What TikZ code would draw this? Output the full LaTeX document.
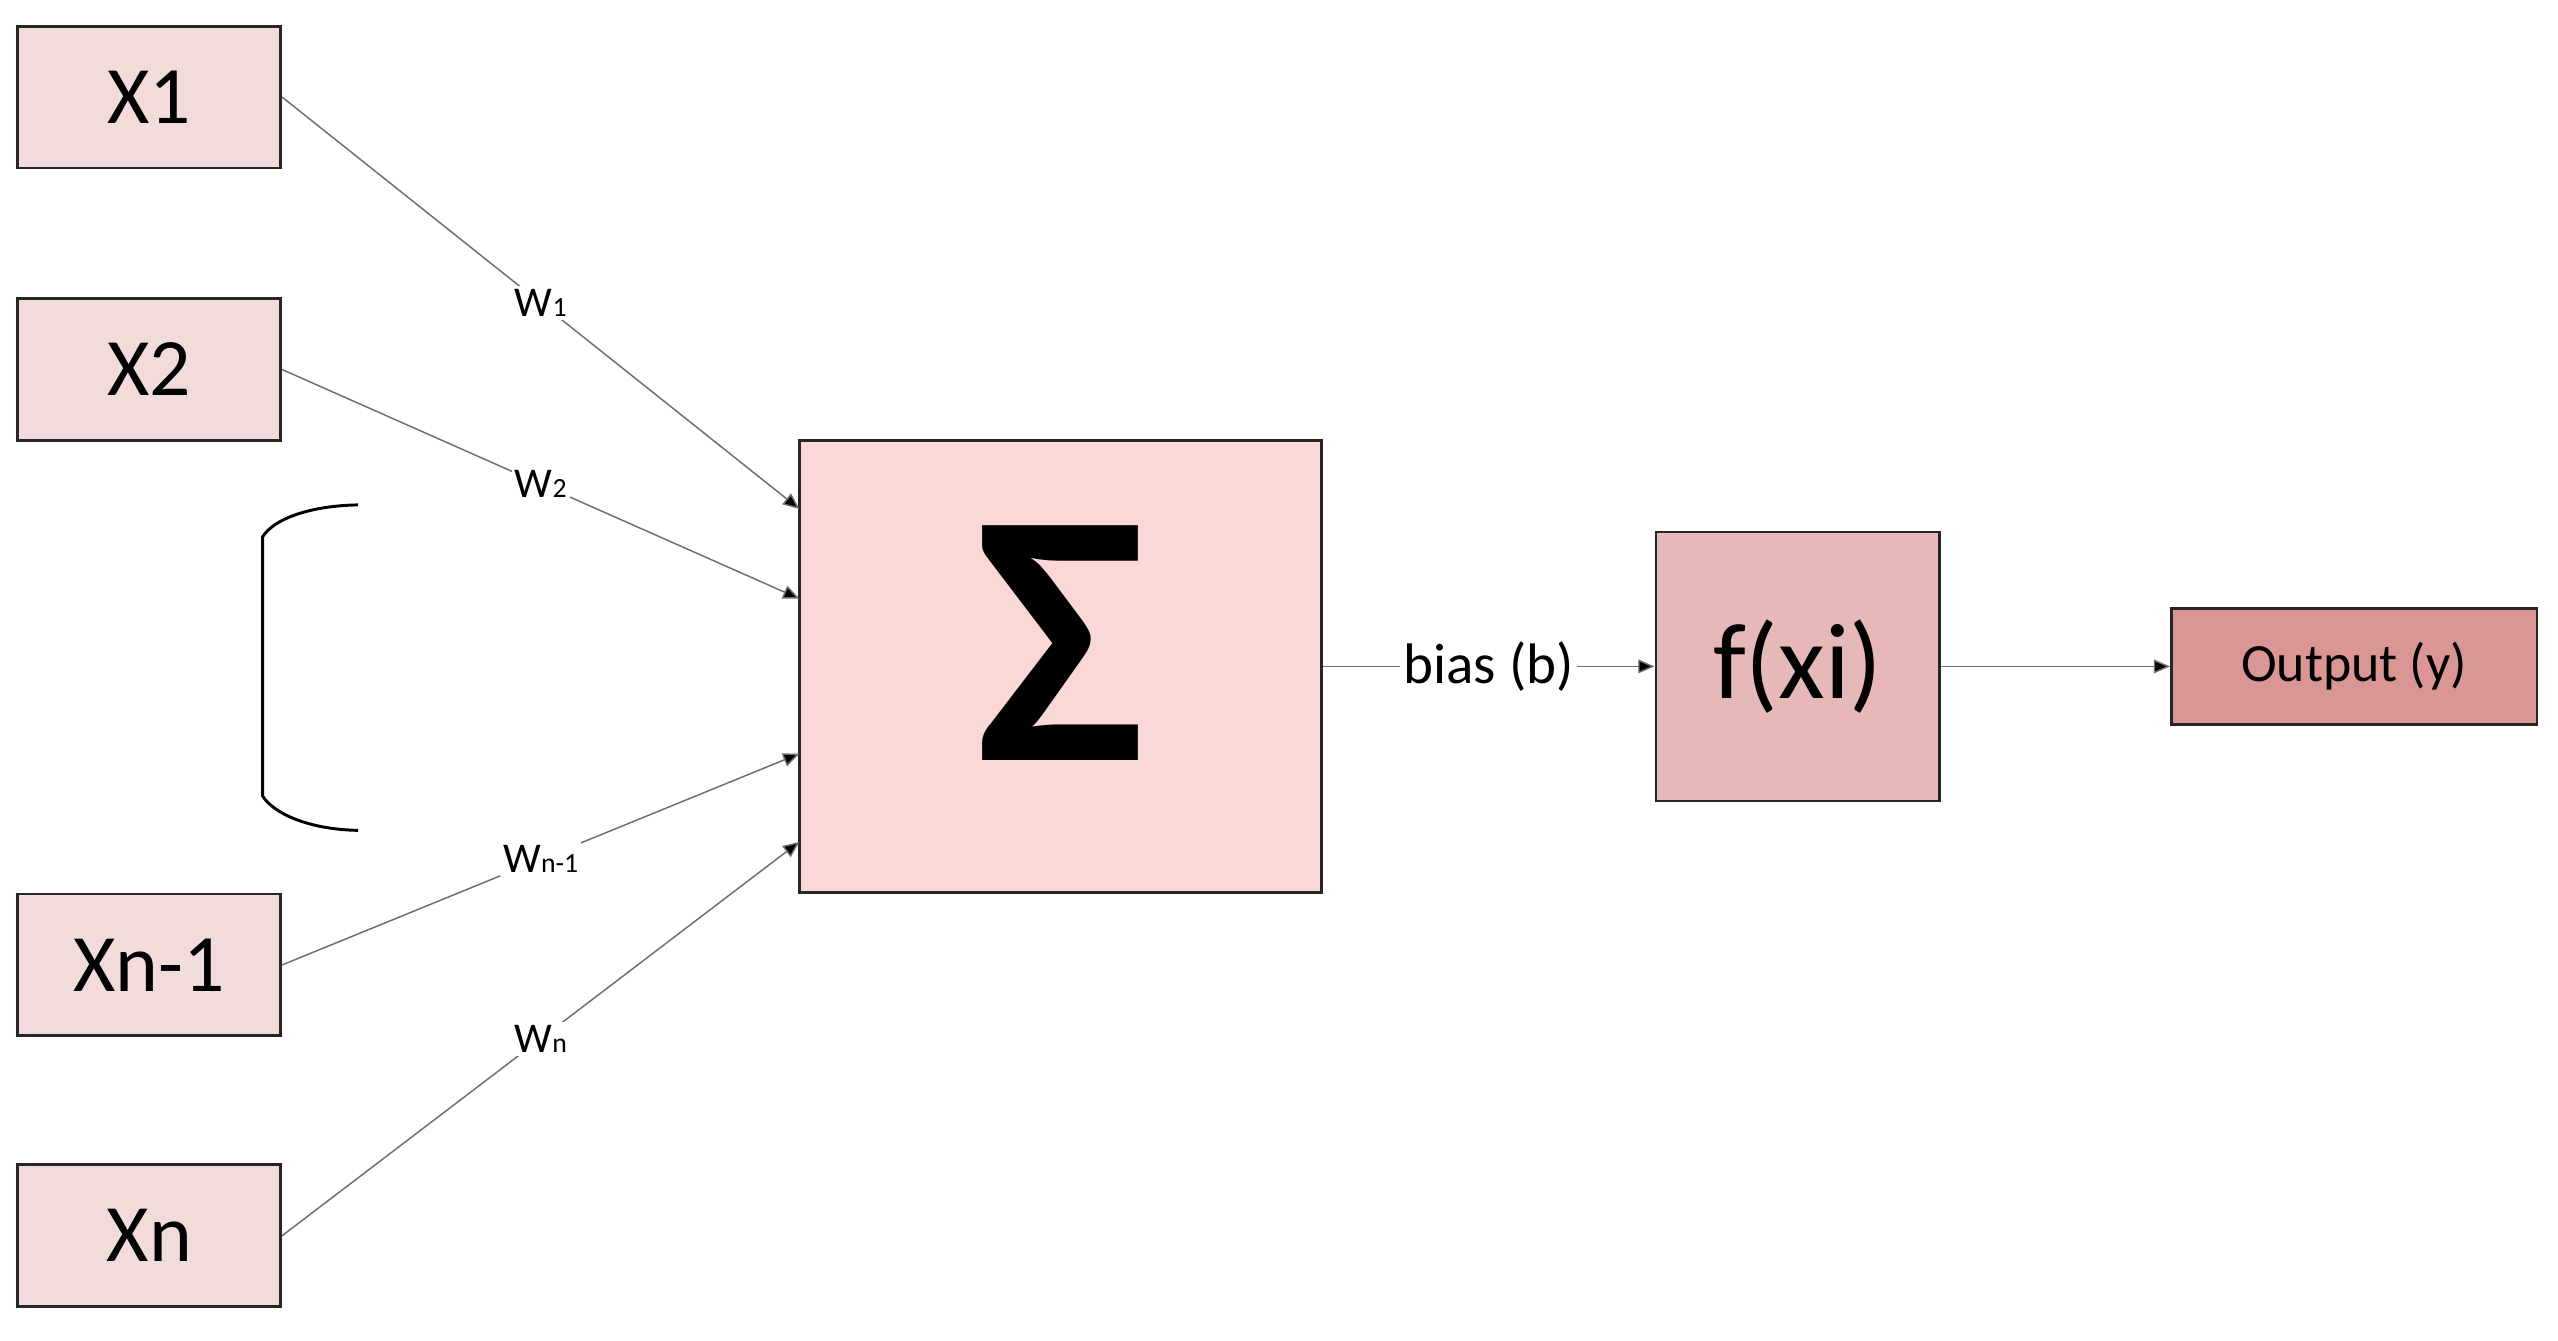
\documentclass[tikz,border=0pt]{standalone}
\usepackage{fontspec}
\setmainfont{Carlito}
\usetikzlibrary{arrows.meta}
\definecolor{inpink}{HTML}{F2DCDB}
\definecolor{sigpink}{HTML}{FAD8D8}
\definecolor{fpink}{HTML}{E6B9B8}
\definecolor{outpink}{HTML}{D99694}
\definecolor{linegray}{HTML}{6E6E6E}
\newcommand{\wlab}[1]{W{\fontsize{8.5}{9}\selectfont #1}}
\tikzset{
  inbox/.style={draw=black!85, line width=0.9pt, fill=inpink, minimum width=80.5pt, minimum height=43.5pt, inner sep=0pt, font=\fontsize{25}{30}\selectfont},
  sigbox/.style={draw=black!85, line width=0.7pt, fill=sigpink, minimum width=160pt, minimum height=138.5pt, inner sep=0pt},
  fbox/.style={draw=black!85, line width=0.8pt, fill=fpink, minimum width=87pt, minimum height=82.5pt, inner sep=0pt, font=\fontsize{33}{38}\selectfont},
  outbox/.style={draw=black!85, line width=0.8pt, fill=outpink, minimum width=112pt, minimum height=35.5pt, inner sep=0pt, font=\fontsize{16.5}{20}\selectfont},
  conn/.style={draw=linegray, line width=0.45pt, -{Triangle[length=5pt,width=4.2pt,fill=black]}},
  wlabel/.style={midway, fill=white, inner sep=1pt, font=\fontsize{13}{15}\selectfont},
}
\begin{document}
\begin{tikzpicture}[x=0.5pt,y=-0.5pt]
\useasboundingbox[fill=white] (0,0) rectangle (1568,822);

\node[inbox] (x1) at (91.5,59.5) {X1};
\node[inbox] (x2) at (91.5,226.5) {X2};
\node[inbox] (xn1) at (91.5,591.5) {Xn-1};
\node[inbox] (xn) at (91.5,757.5) {Xn};

\node[sigbox] (sig) at (650,408.5) {};
\node[inner sep=0pt, font=\fontsize{111}{115}\bfseries\selectfont] (sigma) at ([yshift=7pt]sig.center) {Σ};
\node[fbox] (f) at (1102,408.5) {f(xi)};
\node[outbox] (out) at (1443,408.5) {Output (y)};

\coordinate (s1) at (490,312);
\coordinate (s2) at (490,367);
\coordinate (s3) at (490,462);
\coordinate (s4) at (490,516);

\draw[conn] (x1.east) -- (s1) node[wlabel] {\wlab{1}};
\draw[conn] (x2.east) -- (s2) node[wlabel] {\wlab{2}};
\draw[conn] (xn1.east) -- (s3) node[wlabel] {\wlab{n-1}};
\draw[conn] (xn.east) -- (s4) node[wlabel] {\wlab{n}};

\draw[conn] (sig.east) -- (f.west) node[midway, fill=white, inner sep=1pt, font=\fontsize{17.5}{20}\selectfont] {bias (b)};
\draw[conn] (f.east) -- (out.west);

% bracket
\draw[black, line width=0.9pt] (219.5,309.5) .. controls (190,310) and (168,318) .. (161,329)
  -- (161,488) .. controls (168,499) and (190,508.5) .. (219.5,509);
\end{tikzpicture}
\end{document}
